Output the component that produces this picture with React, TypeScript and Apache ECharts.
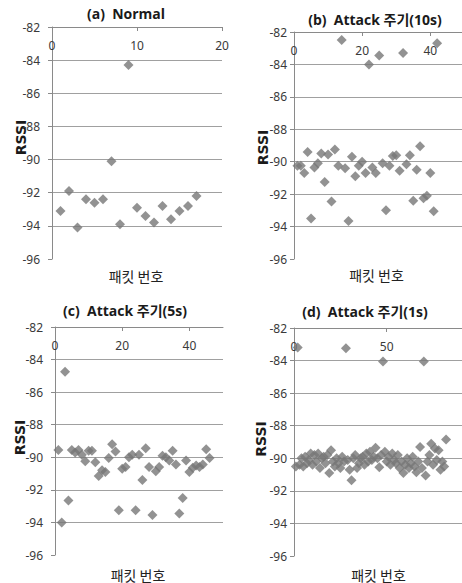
import React, { useEffect, useRef } from "react";
import * as echarts from "echarts";

// RSSI values per packet number (packet numbers start at 1)
const normalRSSI = [-93.1, -91.9, -94.1, -92.4, -92.6, -92.4, -90.1, -93.9, -84.3, -92.9, -93.4, -93.8, -92.8, -93.6, -93.1, -92.8, -92.2];

const attack10sRSSI = [
  -90.25, -90.25, -90.7, -89.4, -93.5, -90.35, -90.1, -89.5, -91.25, -89.55,
  -92.45, -89.25, -90.25, -82.5, -90.4, -93.65, -89.7, -90.9, -90.25, -90.0,
  -90.7, -84.0, -90.35, -90.7, -83.45, -90.1, -93.0, -90.25, -89.65, -89.6,
  -90.55, -83.3, -90.15, -89.6, -92.4, -90.5, -89.05, -92.25, -92.1, -90.7,
  -93.05, -82.7,
];

const attack5sRSSI = [
  -89.55, -94.0, -84.75, -92.65, -89.55, -89.7, -89.55, -89.85, -90.25, -89.6,
  -89.6, -90.3, -91.15, -90.8, -90.9, -90.05, -89.2, -89.65, -93.25, -90.7,
  -90.6, -90.0, -89.85, -93.25, -89.85, -91.4, -89.45, -90.6, -93.55, -90.85,
  -90.6, -89.9, -90.0, -90.2, -89.6, -90.45, -93.45, -92.5, -90.2, -90.9,
  -90.65, -90.5, -90.6, -90.45, -89.5, -90.05,
];

const attack1sRSSI = [
  -90.5, -83.2, -90.4, -90.0, -90.5, -89.9, -90.3, -90.1, -89.7, -90.4,
  -89.8, -90.2, -89.7, -90.6, -90.0, -89.9, -90.3, -89.8, -90.9, -89.5,
  -90.2, -90.5, -90.0, -90.3, -90.6, -89.9, -90.2, -83.25, -90.1, -90.7,
  -91.35, -90.0, -89.8, -90.6, -90.3, -90.0, -89.9, -90.4, -89.7, -90.2,
  -89.6, -90.1, -89.9, -89.35, -90.0, -90.55, -89.8, -84.05, -89.6, -90.2,
  -89.9, -90.4, -89.7, -90.1, -90.3, -89.8, -90.6, -90.2, -90.9, -90.4,
  -90.0, -90.6, -90.3, -89.9, -90.5, -90.85, -90.2, -89.3, -90.6, -84.05,
  -91.05, -90.2, -89.8, -89.1, -90.4, -89.4, -90.1, -89.5, -90.7, -90.2,
  -90.5, -88.85,
];

const panelTitles = ["(a)  Normal", "(b)  Attack 주기(10s)", "(c)  Attack 주기(5s)", "(d)  Attack 주기(1s)"];
const xAxisName = "패킷 번호";
const yAxisName = "RSSI";
const xMaxes = [20, 49.3, 50, 90.6];
const xIntervals = [10, 20, 20, 50];
const yMin = -96;
const yMax = -82;
const yInterval = 2;

const seriesData = [normalRSSI, attack10sRSSI, attack5sRSSI, attack1sRSSI];

// layout
const grids = [
  { left: 52, top: 27, width: 170, height: 232 },
  { left: 294, top: 32, width: 168, height: 227 },
  { left: 55, top: 327, width: 168, height: 228 },
  { left: 294, top: 328, width: 168, height: 228 },
];
const yLabelMargins = [12, 7, 12, 7];
const titlePos = [
  [126, 13.5],
  [375, 19],
  [125, 310],
  [365, 311],
];
const xNamePos = [
  [136, 275.5],
  [376.5, 275],
  [138, 574.5],
  [378.5, 574.5],
];
const yNamePos = [
  [20.5, 137.5],
  [262.7, 147.5],
  [20, 437.5],
  [261, 439],
];

const AXIS_COLOR = "#8a8a8a";
const GRID_COLOR = "#a0a0a0";
const TEXT_COLOR = "#3a3a3a";
const MARKER_COLOR = "#777777";

export default function App() {
  const ref = useRef<HTMLDivElement>(null);

  useEffect(() => {
    if (!ref.current) return;
    const chart = echarts.init(ref.current, undefined, { renderer: "svg" });

    const xAxes = grids.map((_, i) => ({
      gridIndex: i,
      type: "value",
      position: "top",
      min: 0,
      max: xMaxes[i],
      interval: xIntervals[i],
      axisLine: { show: true, onZero: false, lineStyle: { color: AXIS_COLOR, width: 1 } },
      axisTick: { show: true, inside: true, length: 4, lineStyle: { color: AXIS_COLOR } },
      axisLabel: {
        inside: true,
        margin: 12,
        showMaxLabel: i === 0,
        color: TEXT_COLOR,
        fontSize: 12,
        fontFamily: "'Noto Sans', sans-serif",
      },
      splitLine: { show: false },
    }));

    const yAxes = grids.map((_, i) => ({
      gridIndex: i,
      type: "value",
      position: "left",
      min: yMin,
      max: yMax,
      interval: yInterval,
      axisLine: { show: true, onZero: false, lineStyle: { color: AXIS_COLOR, width: 1 } },
      axisTick: { show: true, length: 4, lineStyle: { color: AXIS_COLOR } },
      axisLabel: {
        margin: yLabelMargins[i],
        color: TEXT_COLOR,
        fontSize: 12,
        fontFamily: "'Noto Sans', sans-serif",
      },
      splitLine: { show: true, showMinLine: false, lineStyle: { color: GRID_COLOR, width: 1 } },
    }));

    const series = seriesData.map((vals, i) => ({
      type: "scatter",
      xAxisIndex: i,
      yAxisIndex: i,
      symbol: "diamond",
      symbolSize: 10,
      itemStyle: { color: MARKER_COLOR },
      data: vals.map((v, k) => [k + 1, v]),
    }));

    const graphic: any[] = [];
    for (let i = 0; i < 4; i++) {
      graphic.push({
        type: "text",
        x: titlePos[i][0],
        y: titlePos[i][1],
        style: {
          text: panelTitles[i],
          fontSize: 14,
          fontWeight: "bold",
          fontFamily: "'Open Sans', 'Noto Sans CJK KR', sans-serif",
          fill: "#1a1a1a",
          align: "center",
          verticalAlign: "middle",
        },
      });
      graphic.push({
        type: "text",
        x: xNamePos[i][0],
        y: xNamePos[i][1],
        style: {
          text: xAxisName,
          fontSize: 14,
          fontFamily: "'Noto Sans CJK KR', sans-serif",
          fill: "#222",
          align: "center",
          verticalAlign: "middle",
        },
      });
      graphic.push({
        type: "text",
        x: yNamePos[i][0],
        y: yNamePos[i][1],
        rotation: Math.PI / 2,
        style: {
          text: yAxisName,
          fontSize: 14,
          fontWeight: "bold",
          fontFamily: "'DejaVu Sans', sans-serif",
          fill: "#1a1a1a",
          align: "center",
          verticalAlign: "middle",
        },
      });
    }

    chart.setOption({
      animation: false,
      backgroundColor: "#ffffff",
      grid: grids.map((g) => ({ ...g, containLabel: false })),
      xAxis: xAxes,
      yAxis: yAxes,
      series,
      graphic,
    });

    return () => chart.dispose();
  }, []);

  return (
    <div
      ref={ref}
      style={{ position: "fixed", left: 0, top: 0, width: 462, height: 583, background: "#fff" }}
    />
  );
}
